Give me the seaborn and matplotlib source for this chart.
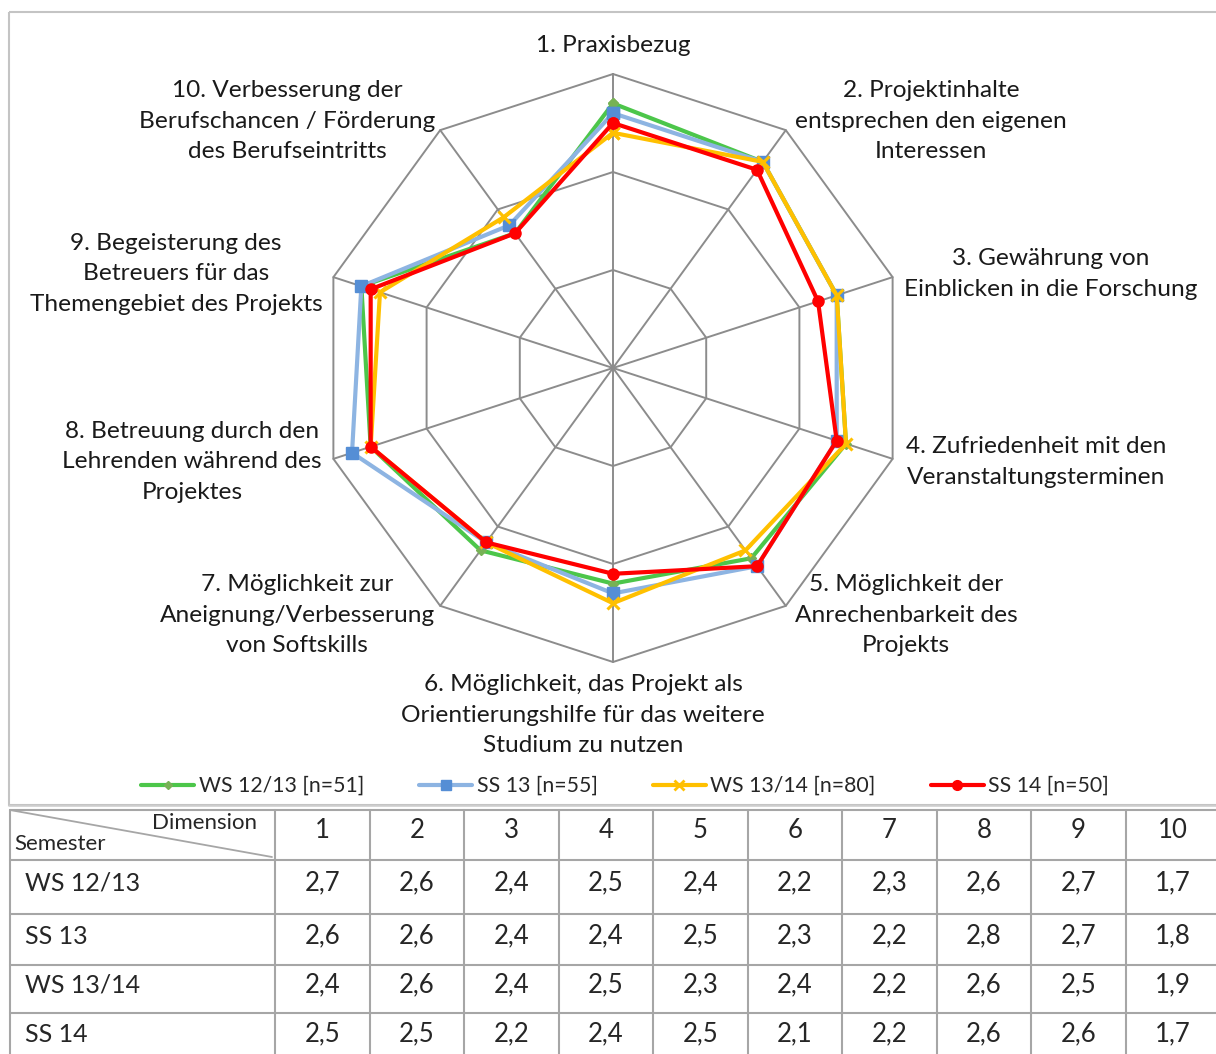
import numpy as np
import pandas as pd
import matplotlib
matplotlib.use("Agg")
import matplotlib.pyplot as plt
from matplotlib.lines import Line2D
from matplotlib.patches import Rectangle
import seaborn as sns

# ---- data -----------------------------------------------------------------
dimensions = [1, 2, 3, 4, 5, 6, 7, 8, 9, 10]
dimension_labels = [
    "1. Praxisbezug",
    "2. Projektinhalte\nentsprechen den eigenen\nInteressen",
    "3. Gewährung von\nEinblicken in die Forschung",
    "4. Zufriedenheit mit den\nVeranstaltungsterminen",
    "5. Möglichkeit der\nAnrechenbarkeit des\nProjekts",
    "6. Möglichkeit, das Projekt als\nOrientierungshilfe für das weitere\nStudium zu nutzen",
    "7. Möglichkeit zur\nAneignung/Verbesserung\nvon Softskills",
    "8. Betreuung durch den\nLehrenden während des\nProjektes",
    "9. Begeisterung des\nBetreuers für das\nThemengebiet des Projekts",
    "10. Verbesserung der\nBerufschancen / Förderung\ndes Berufseintritts",
]
semesters = ["WS 12/13", "SS 13", "WS 13/14", "SS 14"]
sample_sizes = [51, 55, 80, 50]
ws_12_13 = [2.7, 2.6, 2.4, 2.5, 2.4, 2.2, 2.3, 2.6, 2.7, 1.7]
ss_13 = [2.6, 2.6, 2.4, 2.4, 2.5, 2.3, 2.2, 2.8, 2.7, 1.8]
ws_13_14 = [2.4, 2.6, 2.4, 2.5, 2.3, 2.4, 2.2, 2.6, 2.5, 1.9]
ss_14 = [2.5, 2.5, 2.2, 2.4, 2.5, 2.1, 2.2, 2.6, 2.6, 1.7]
grid_levels = [1, 2, 3]

series_values = [ws_12_13, ss_13, ws_13_14, ss_14]

# ---- styling --------------------------------------------------------------
sns.set_theme(style="white")
FONT = ["Lato", "DejaVu Sans"]
plt.rcParams["font.family"] = FONT

line_colors = ["#4CC64A", "#8DB4E2", "#FFC000", "#FF0000"]
marker_colors = ["#77B255", "#558ED5", "#FFC000", "#FF0000"]
markers = ["D", "s", "x", "o"]
marker_sizes = [5, 8, 8, 8]
GRID = "#8C8C8C"

W, H = 1216, 1054
fig = plt.figure(figsize=(W / 100, H / 100), dpi=100)

# overlay axes in pixel coordinates (frame, labels, table)
ov = fig.add_axes([0, 0, 1, 1])
ov.set_xlim(0, W)
ov.set_ylim(H, 0)
ov.axis("off")

# chart frame
ov.add_patch(Rectangle((9, 12), W, 793, fill=False, ec="#C4C4C4", lw=1.5))

# ---- radar axes -----------------------------------------------------------
cx, cy, R = 613, 368, 294          # centre and outer radius in pixels
half = 350
ax = fig.add_axes([(cx - half) / W, 1 - (cy + half) / H, 2 * half / W, 2 * half / H])
lim = half / R * max(grid_levels)
ax.set_xlim(-lim, lim)
ax.set_ylim(-lim, lim)
ax.axis("off")
ax.patch.set_alpha(0)

n = len(dimensions)
angles = np.deg2rad(90 - 360 / n * np.arange(n))

# decagon grid rings and spokes
for lvl in grid_levels:
    ring = pd.DataFrame({"x": np.r_[lvl * np.cos(angles), lvl * np.cos(angles[0])],
                         "y": np.r_[lvl * np.sin(angles), lvl * np.sin(angles[0])]})
    ax.plot(ring["x"], ring["y"], color=GRID, lw=1.4, zorder=1)
top = max(grid_levels)
for a in angles:
    ax.plot([0, top * np.cos(a)], [0, top * np.sin(a)], color=GRID, lw=1.4, zorder=1)

# series
records = []
for sem, vals in zip(semesters, series_values):
    for k, (d, v) in enumerate(zip(dimensions + [dimensions[0]], vals + [vals[0]])):
        a = angles[(d - 1) % n]
        records.append({"semester": sem, "order": k, "value": v,
                        "x": v * np.cos(a), "y": v * np.sin(a)})
df = pd.DataFrame(records)

handles = []
for i, sem in enumerate(semesters):
    sub = df[df["semester"] == sem]
    sns.lineplot(data=sub, x="x", y="y", sort=False, estimator=None, ax=ax,
                 color=line_colors[i], lw=3, marker=markers[i], ms=marker_sizes[i],
                 mfc=marker_colors[i], mec=marker_colors[i], mew=2.2 if markers[i] == "x" else 1,
                 zorder=3 + i, legend=False)
    handles.append(Line2D([], [], color=line_colors[i], lw=3, marker=markers[i],
                          ms=marker_sizes[i] - 1, mfc=marker_colors[i], mec=marker_colors[i],
                          mew=2 if markers[i] == "x" else 1))

# axis labels
label_pos = [(613, 45), (931, 121), (1051, 274), (1036, 462), (906, 615),
             (583, 715), (297, 615), (192, 462), (176, 274), (287, 121)]
for text, (x, y) in zip(dimension_labels, label_pos):
    ov.text(x, y, text, ha="center", va="center", multialignment="center",
            fontsize=17.6, linespacing=1.56, color="#1A1A1A", family=FONT)

# legend
leg_labels = [f"{s} [n={m}]" for s, m in zip(semesters, sample_sizes)]
fig.legend(handles, leg_labels, loc="center", bbox_to_anchor=(625 / W, 1 - 786 / H),
           ncol=4, frameon=False, handlelength=2.5, handletextpad=0.2,
           columnspacing=2.6, prop={"family": FONT, "size": 15.3})

# ---- table ----------------------------------------------------------------
TL = "#A6A6A6"
col_edges = [10] + [275 + 94.5 * k for k in range(11)]
row_edges = [810, 860, 914, 965, 1013, H + 5]
for x in col_edges:
    ov.plot([x, x], [row_edges[0], row_edges[-1]], color=TL, lw=1.5)
for y in row_edges[:-1]:
    ov.plot([col_edges[0], W + 5], [y, y], color=TL, lw=1.5)
ov.plot([9, W + 5], [806, 806], color="#D0D0D0", lw=1.2)
ov.plot([col_edges[0], col_edges[1] - 3], [row_edges[0], row_edges[1] - 3], color=TL, lw=1.3)

ov.text(257, 823, "Dimension", ha="right", va="center", fontsize=16, family=FONT)
ov.text(14, 844, "Semester", ha="left", va="center", fontsize=16, family=FONT)


def col_centre(k):
    return col_edges[k + 1] + 47.25


for k, d in enumerate(dimensions):
    ov.text(col_centre(k), 831, str(d), ha="center", va="center", fontsize=18.5, family=FONT)

row_centres = [883, 936, 985, 1034]
for r, (sem, vals) in enumerate(zip(semesters, series_values)):
    ov.text(25, row_centres[r], sem, ha="left", va="center", fontsize=18, family=FONT)
    for k, v in enumerate(vals):
        ov.text(col_centre(k), row_centres[r], f"{v:.1f}".replace(".", ","), ha="center",
                va="center", fontsize=18.5, family=FONT)

fig.savefig("out.png", dpi=100)
